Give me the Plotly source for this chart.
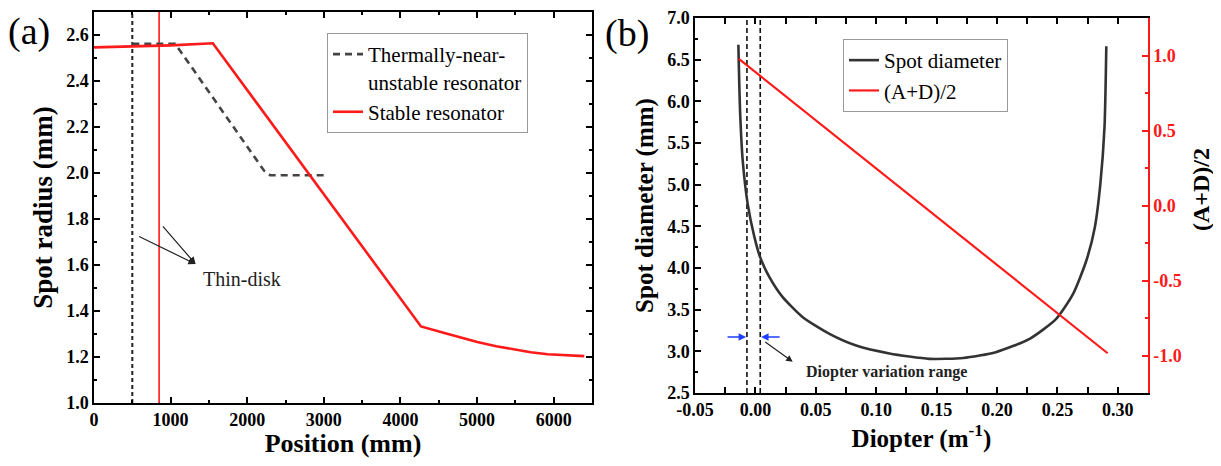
import plotly.graph_objects as go

# ---------------- Panel (a) data ----------------
stable_x = [0, 500, 1000, 1551, 4268, 4609, 5003, 5250, 5482, 5700, 5920, 6150, 6400]
stable_y = [2.546, 2.550, 2.555, 2.564, 1.333, 1.301, 1.265, 1.247, 1.232, 1.221, 1.212, 1.207, 1.204]

near_x = [500, 1060, 2220, 2300, 3000]
near_y = [2.562, 2.562, 2.010, 1.990, 1.990]

disk_near_x = 500      # thin-disk position, thermally-near-unstable resonator
disk_stable_x = 850    # thin-disk position, stable resonator
a_yrange = [1.0, 2.7]
a_xrange = [0, 6500]
a_xticks = [0, 1000, 2000, 3000, 4000, 5000, 6000]
a_xticklabels = ["0", "1000", "2000", "3000", "4000", "5000", "6000"]
a_yticks = [1.0, 1.2, 1.4, 1.6, 1.8, 2.0, 2.2, 2.4, 2.6]
a_yticklabels = ["1.0", "1.2", "1.4", "1.6", "1.8", "2.0", "2.2", "2.4", "2.6"]

# ---------------- Panel (b) data ----------------
diop_x = [-0.0141, -0.0135, -0.0127, -0.0105, -0.0064, -0.0008, 0.0039, 0.0116,
          0.0226, 0.0392, 0.0613, 0.0834, 0.111, 0.144, 0.172, 0.199, 0.227,
          0.249, 0.263, 0.274, 0.281, 0.2855, 0.289, 0.2905]
spot_d = [6.68, 6.30, 5.885, 5.29, 4.77, 4.37, 4.13, 3.89,
          3.65, 3.41, 3.21, 3.07, 2.975, 2.91, 2.92, 2.99, 3.15,
          3.39, 3.69, 4.09, 4.49, 5.00, 5.69, 6.66]

ad_x = [-0.0137, 0.2916]
ad_y = [0.978, -0.985]

range_lo = -0.007
range_hi = 0.004
b_xrange = [-0.05, 0.325]
b_yrange = [2.5, 7.0]
b_y2range = [-1.25, 1.25]
b_xticks = [-0.05, 0.0, 0.05, 0.10, 0.15, 0.20, 0.25, 0.30]
b_xticklabels = ["-0.05", "0.00", "0.05", "0.10", "0.15", "0.20", "0.25", "0.30"]
b_yticks = [2.5, 3.0, 3.5, 4.0, 4.5, 5.0, 5.5, 6.0, 6.5, 7.0]
b_yticklabels = ["2.5", "3.0", "3.5", "4.0", "4.5", "5.0", "5.5", "6.0", "6.5", "7.0"]
b_y2ticks = [-1.0, -0.5, 0.0, 0.5, 1.0]
b_y2ticklabels = ["-1.0", "-0.5", "0.0", "0.5", "1.0"]

SERIF = "Liberation Serif, Times New Roman, serif"
OFF = 8                      # default page body margin
W, H = 1221 - 2 * OFF, 466 - 2 * OFF
RED = "#ff1a1a"


def px(x):   # page x pixel -> paper fraction
    return (x - OFF) / W


def py(y):   # page y pixel -> paper fraction
    return 1 - (y - OFF) / H


def bold(labels):
    return ["<b>%s</b>" % s for s in labels]


fig = go.Figure()

# Panel (a)
fig.add_trace(go.Scatter(x=[disk_near_x, disk_near_x], y=a_yrange, mode="lines",
                         line=dict(color="#222", width=2, dash="4px,3px"),
                         showlegend=False, xaxis="x", yaxis="y"))
fig.add_trace(go.Scatter(x=[disk_stable_x, disk_stable_x], y=a_yrange, mode="lines",
                         line=dict(color=RED, width=1.6),
                         showlegend=False, xaxis="x", yaxis="y"))
fig.add_trace(go.Scatter(x=near_x, y=near_y, mode="lines",
                         name="Thermally-near-<br>unstable resonator",
                         line=dict(color="#444", width=2.6, dash="7px,5px"),
                         legend="legend", xaxis="x", yaxis="y"))
fig.add_trace(go.Scatter(x=stable_x, y=stable_y, mode="lines",
                         name="Stable resonator",
                         line=dict(color=RED, width=2.6),
                         legend="legend", xaxis="x", yaxis="y"))

# Panel (b)
for xv in [range_lo, range_hi]:
    fig.add_trace(go.Scatter(x=[xv, xv], y=b_yrange, mode="lines",
                             line=dict(color="#111", width=1.6, dash="5px,3px"),
                             showlegend=False, xaxis="x2", yaxis="y2"))
fig.add_trace(go.Scatter(x=diop_x, y=spot_d, mode="lines", name="Spot diameter",
                         line_shape="spline",
                         line=dict(color="#333", width=2.6, smoothing=0.6),
                         legend="legend2", xaxis="x2", yaxis="y2"))
fig.add_trace(go.Scatter(x=ad_x, y=ad_y, mode="lines", name="(A+D)/2",
                         line=dict(color=RED, width=2.2),
                         legend="legend2", xaxis="x2", yaxis="y3"))

tickfont = dict(family=SERIF, size=18, color="black", weight="bold")
common = dict(ticks="inside", ticklen=6, tickwidth=1.5, showline=True, linewidth=1.5,
              linecolor="black", tickcolor="black", showgrid=False, zeroline=False,
              automargin=False, tickfont=tickfont, ticklabeloverflow="allow")

fig.update_layout(
    width=W, height=H, template="none",
    paper_bgcolor="white", plot_bgcolor="white",
    margin=dict(l=0, r=0, t=0, b=0),
    font=dict(family=SERIF, color="black"),
    xaxis=dict(domain=[px(94), px(592)], range=a_xrange, tickvals=a_xticks,
               ticktext=bold(a_xticklabels), mirror="allticks", anchor="y",
               minor=dict(ticks="inside", ticklen=3, dtick=500, tick0=0, tickcolor="black"),
               title=dict(text="<b>Position (mm)</b>", font=dict(size=26, family=SERIF), standoff=9),
               **common),
    yaxis=dict(domain=[py(403), py(12)], range=a_yrange, tickvals=a_yticks,
               ticktext=bold(a_yticklabels), mirror="allticks", anchor="x",
               minor=dict(ticks="inside", ticklen=3, dtick=0.1, tick0=0, tickcolor="black"),
               title=dict(text="<b>Spot radius (mm)</b>", font=dict(size=27, family=SERIF), standoff=6),
               **common),
    xaxis2=dict(domain=[px(695), px(1148)], range=b_xrange, tickvals=b_xticks,
                ticktext=bold(b_xticklabels), mirror="allticks", anchor="y2",
                minor=dict(ticks="inside", ticklen=3, dtick=0.025, tick0=0, tickcolor="black"),
                title=dict(text="<b>Diopter (m<sup>-1</sup>)</b>", font=dict(size=25, family=SERIF), standoff=9),
                **common),
    yaxis2=dict(domain=[py(393), py(18)], range=b_yrange, tickvals=b_yticks,
                ticktext=bold(b_yticklabels), mirror=False, anchor="x2",
                minor=dict(ticks="inside", ticklen=3, dtick=0.25, tick0=0, tickcolor="black"),
                title=dict(text="<b>Spot diameter (mm)</b>", font=dict(size=25, family=SERIF), standoff=6),
                **common),
    yaxis3=dict(domain=[py(393), py(18)], range=b_y2range, tickvals=b_y2ticks,
                ticktext=bold(b_y2ticklabels), overlaying="y2", side="right", anchor="x2",
                ticks="inside", ticklen=6, tickwidth=1.5, showline=True, linewidth=1.5,
                linecolor=RED, tickcolor=RED, showgrid=False, zeroline=False,
                automargin=False, ticklabeloverflow="allow",
                tickfont=dict(family=SERIF, size=18, color=RED, weight="bold"),
                minor=dict(ticks="inside", ticklen=3, dtick=0.25, tick0=0, tickcolor=RED)),
    legend=dict(x=px(327), y=py(33), xanchor="left", yanchor="top",
                bgcolor="white", bordercolor="#999", borderwidth=1,
                font=dict(family=SERIF, size=21, color="black"), valign="top",
                tracegroupgap=0, itemwidth=30),
    legend2=dict(x=px(843), y=py(39), xanchor="left", yanchor="top",
                 bgcolor="white", bordercolor="#999", borderwidth=1,
                 font=dict(family=SERIF, size=21, color="black"),
                 tracegroupgap=0, itemwidth=30),
)

ann = []
# panel labels
ann.append(dict(text="(a)", x=px(6), y=py(31), xref="paper", yref="paper",
                xanchor="left", yanchor="middle", showarrow=False,
                font=dict(size=38, family=SERIF, color="black")))
ann.append(dict(text="(b)", x=px(603), y=py(33), xref="paper", yref="paper",
                xanchor="left", yanchor="middle", showarrow=False,
                font=dict(size=38, family=SERIF, color="black")))
# right axis title of panel (b)
ann.append(dict(text="<b>(A+D)/2</b>", x=px(1201), y=py(190), xref="paper", yref="paper",
                xanchor="center", yanchor="middle", showarrow=False, textangle=-90,
                font=dict(size=24, family=SERIF, color="black")))
# Thin-disk arrows and text
for tx, ty in [(570, 1.727), (882, 1.774)]:
    ann.append(dict(x=1326, y=1.604, ax=tx, ay=ty, xref="x", yref="y", axref="x", ayref="y",
                    text="", showarrow=True, arrowhead=2, arrowsize=1.2, arrowwidth=1.2,
                    arrowcolor="#222"))
ann.append(dict(text="Thin-disk", x=1931, y=1.539, xref="x", yref="y", showarrow=False,
                font=dict(size=20, family=SERIF, color="#222")))
# Diopter variation range arrows
ann.append(dict(x=-0.0077, y=3.173, ax=-0.0243, ay=3.173, xref="x2", yref="y2",
                axref="x2", ayref="y2", text="", showarrow=True, arrowhead=2,
                arrowsize=1, arrowwidth=1.5, arrowcolor="#1f3fff"))
ann.append(dict(x=0.0047, y=3.173, ax=0.0213, ay=3.173, xref="x2", yref="y2",
                axref="x2", ayref="y2", text="", showarrow=True, arrowhead=2,
                arrowsize=1, arrowwidth=1.5, arrowcolor="#1f3fff"))
ann.append(dict(x=0.0309, y=2.874, ax=0.0069, ay=3.125, xref="x2", yref="y2",
                axref="x2", ayref="y2", text="", showarrow=True,
                arrowhead=2, arrowsize=1.1, arrowwidth=1.2, arrowcolor="#222"))
ann.append(dict(text="<b>Diopter variation range</b>", x=0.1083, y=2.755, xref="x2", yref="y2",
                showarrow=False, font=dict(size=16, family=SERIF, color="#222")))
fig.update_layout(annotations=ann)

fig.write_html("out.html")
